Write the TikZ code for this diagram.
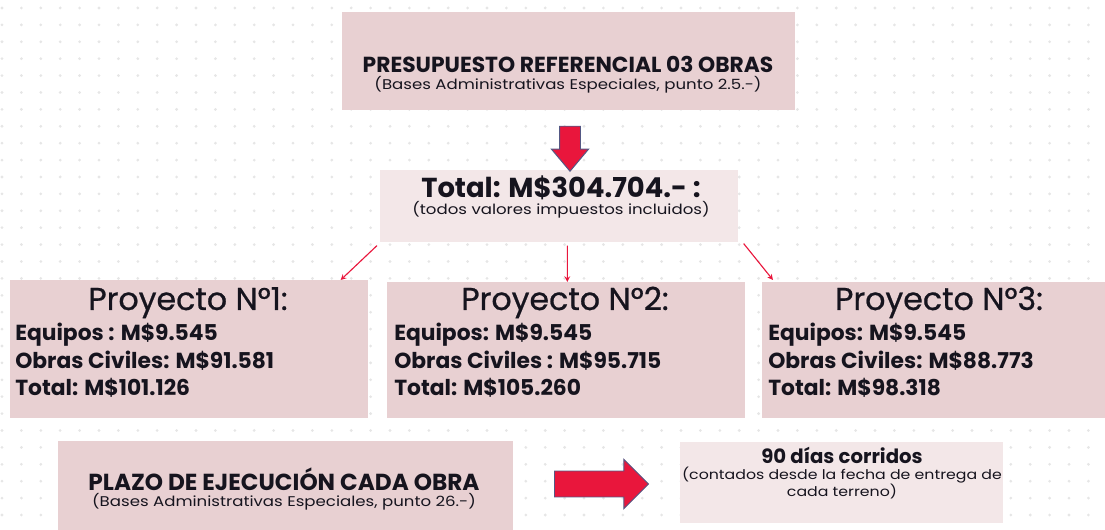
\documentclass[tikz,border=0pt]{standalone}
\usepackage{fontspec}
\setmainfont{Poppins}
\newfontfamily\widefont[FakeStretch=1.18]{Poppins}
\newfontfamily\titlefont[FakeBold=0.7]{Poppins}
\usetikzlibrary{shapes.arrows}
\definecolor{boxpink}{RGB}{232,208,210}
\definecolor{boxlight}{RGB}{243,231,232}
\definecolor{arrowred}{RGB}{233,22,60}
\definecolor{arrowedge}{RGB}{84,88,132}
\definecolor{dotgray}{RGB}{230,230,230}
\definecolor{inkdark}{RGB}{22,20,30}
\begin{document}
\begin{tikzpicture}[
    x=0.025cm, y=-0.025cm,
    pinkbox/.style={rectangle, fill=boxpink, inner sep=0pt, anchor=north west},
    lightbox/.style={rectangle, fill=boxlight, inner sep=0pt, anchor=north west},
    label/.style={inner sep=0pt, align=center, text=inkdark},
    projtitle/.style={inner sep=0pt, anchor=base, text=inkdark, font=\titlefont\fontsize{22.5}{26}\selectfont},
    projlines/.style={inner sep=0pt, anchor=base west, align=left, text=inkdark, font=\bfseries\fontsize{15.5}{19.6}\selectfont},
    bigarrow/.style={single arrow, fill=arrowred, draw=arrowedge, line width=0.7pt},
    thinarrow/.style={->, >=stealth, arrowred, thick},
    ]

    % faint dotted background
    \useasboundingbox (0,0) rectangle (1105,530);
    \foreach \i in {0,...,56}
        \foreach \j in {0,...,31}
            \fill[dotgray] (2+19.4*\i, 8+16.9*\j) circle (1.1pt);

    % Budget
    \node[pinkbox, minimum width=11.325cm, minimum height=2.45cm] (presup) at (342,12) {};
    \node[label] (presupt) at (568,75)
        {{\bfseries\fontsize{15.5}{18}\selectfont PRESUPUESTO REFERENCIAL 03 OBRAS}\\[0pt]
         {\widefont\fontsize{10}{11}\selectfont (Bases Administrativas Especiales, punto 2.5.-)}};
    \node[lightbox, minimum width=8.95cm, minimum height=1.8cm] (total) at (380,170) {};
    \node[label] (totalt) at (561,197)
        {{\bfseries\fontsize{19.5}{22}\selectfont Total: M\$304.704.- :}\\[0pt]
         {\widefont\fontsize{10}{11}\selectfont (todos valores impuestos incluidos)}};
    \node[bigarrow, rotate=-90, minimum height=1.125cm, inner sep=0.25cm, single arrow head extend=0.2cm, single arrow tip angle=80] (down) at (570,142.5) {};

    % Projects
    \node[pinkbox, minimum width=8.95cm, minimum height=3.45cm] (p1) at (10,280) {};
    \node[pinkbox, minimum width=8.95cm, minimum height=3.4cm] (p2) at (387,282) {};
    \node[pinkbox, minimum width=8.95cm, minimum height=3.4cm] (p3) at (762,282) {};
    \node[projtitle] (p1t) at (188,310) {Proyecto N°1:};
    \node[projtitle] (p2t) at (565,310) {Proyecto N°2:};
    \node[projtitle] (p3t) at (939,310) {Proyecto N°3:};
    \node[projlines] (p1l) at (15,396) {Equipos : M\$9.545\\ Obras Civiles: M\$91.581\\ Total: M\$101.126};
    \node[projlines] (p2l) at (394,396) {Equipos: M\$9.545\\ Obras Civiles : M\$95.715\\ Total: M\$105.260};
    \node[projlines] (p3l) at (768,396) {Equipos: M\$9.545\\ Obras Civiles: M\$88.773\\ Total: M\$98.318};

    % Split arrows
    \draw[thinarrow] ([xshift=-0.075cm, yshift=-0.075cm]total.south west) -- ([xshift=-0.7cm]p1.north east);
    \draw[thinarrow] ([xshift=0.2cm, yshift=-0.075cm]total.south) -- ([xshift=0.025cm]p2.north);
    \draw[thinarrow] ([xshift=0.125cm, yshift=-0.025cm]total.south east) -- ([xshift=0.275cm, yshift=0.05cm]p3.north west);

    % Execution time
    \node[pinkbox, minimum width=11.375cm, minimum height=2.25cm] (plazo) at (58,441) {};
    \node[label] (plazot) at (284,489)
        {{\bfseries\fontsize{16.5}{19}\selectfont PLAZO DE EJECUCIÓN CADA OBRA}\\[0pt]
         {\widefont\fontsize{10}{11}\selectfont (Bases Administrativas Especiales, punto 26.-)}};
    \node[lightbox, minimum width=8.075cm, minimum height=2.025cm] (dias) at (680,442) {};
    \node[label] (diast) at (842,473)
        {{\bfseries\fontsize{14}{16}\selectfont 90 días corridos}\\[-1pt]
         {\widefont\fontsize{9.5}{15}\selectfont (contados desde la fecha de entrega de}\\
         {\widefont\fontsize{9.5}{15}\selectfont cada terreno)}};
    \node[bigarrow, minimum height=2.35cm, inner sep=0.3125cm, single arrow head extend=0.29cm, single arrow tip angle=90] (plazoarrow) at (595,484) {};

\end{tikzpicture}
\end{document}
